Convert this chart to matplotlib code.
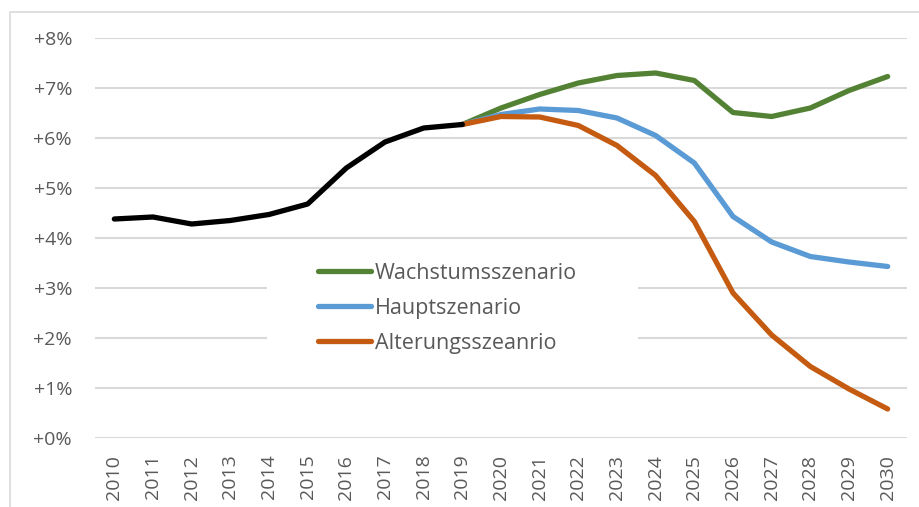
import matplotlib.pyplot as plt
from matplotlib.patches import Rectangle

years = list(range(2010, 2031))
year_labels = [str(y) for y in years]

# historic values 2010-2019
history = [4.38, 4.42, 4.28, 4.35, 4.47, 4.68, 5.40, 5.92, 6.20, 6.27]

# scenarios 2019-2030
wachstum = [6.27, 6.60, 6.87, 7.10, 7.25, 7.30, 7.15, 6.51, 6.43, 6.60, 6.95, 7.23]
haupt = [6.27, 6.47, 6.58, 6.55, 6.40, 6.05, 5.50, 4.43, 3.92, 3.63, 3.52, 3.43]
alterung = [6.27, 6.43, 6.42, 6.25, 5.85, 5.25, 4.33, 2.90, 2.06, 1.43, 0.98, 0.58]

scenario_names = ['Wachstumsszenario', 'Hauptszenario', 'Alterungsszeanrio']
scenario_colors = ['#548235', '#5B9BD5', '#C55A11']

plt.rcParams['font.family'] = ['Open Sans', 'DejaVu Sans']

W, H = 920, 507
fig = plt.figure(figsize=(W / 100, H / 100), dpi=100)

# chart area border
fig.patches.append(Rectangle((10 / W, -0.1), 1.0, (H - 12) / H + 0.1,
                             transform=fig.transFigure, fill=False,
                             edgecolor='#D9D9D9', linewidth=1.2))

ax = fig.add_axes([95 / W, (H - 438) / H, (907 - 95) / W, 400 / H])


def px(x, y):
    # figure pixel (from top-left) -> axes fraction
    return (x - 95) / (907 - 95), (438 - y) / 400


x_hist = list(range(len(history)))
x_scen = list(range(len(history) - 1, len(years)))

for vals, name, col in zip([wachstum, haupt, alterung], scenario_names, scenario_colors):
    ax.plot(x_scen, vals, color=col, lw=3.8, label=name, solid_capstyle='round',
            solid_joinstyle='round', zorder=3)
ax.plot(x_hist, history, color='black', lw=3.8, solid_capstyle='round',
        solid_joinstyle='round', zorder=4)

ax.set_xlim(-0.5, len(years) - 0.5)
ax.set_ylim(0, 8)
ax.set_yticks(range(0, 9))
ax.set_yticklabels([f'+{v}%' for v in range(0, 9)])
ax.set_xticks(range(len(years)))
ax.set_xticklabels(year_labels, rotation=90)

ax.grid(axis='y', color='#D9D9D9', lw=1.5, zorder=0)
ax.set_axisbelow(True)
for s in ax.spines.values():
    s.set_visible(False)
ax.tick_params(length=0, colors='#595959', labelsize=14)
ax.tick_params(axis='y', pad=16.5)
ax.tick_params(axis='x', pad=12)

# white legend area hiding gridlines
x0, y0 = px(267, 372)
x1, y1 = px(638, 248)
ax.add_patch(Rectangle((x0, y0), x1 - x0, y1 - y0, transform=ax.transAxes,
                       facecolor='white', edgecolor='none', zorder=1))

leg = ax.legend(loc='upper left', bbox_to_anchor=px(318, 263),
                frameon=False, fontsize=15.5, handlelength=2.45, handletextpad=0.2,
                labelspacing=0.64, borderpad=0, borderaxespad=0)
for t in leg.get_texts():
    t.set_color('#595959')
leg.set_zorder(2)

fig.savefig('out.png', dpi=100)
